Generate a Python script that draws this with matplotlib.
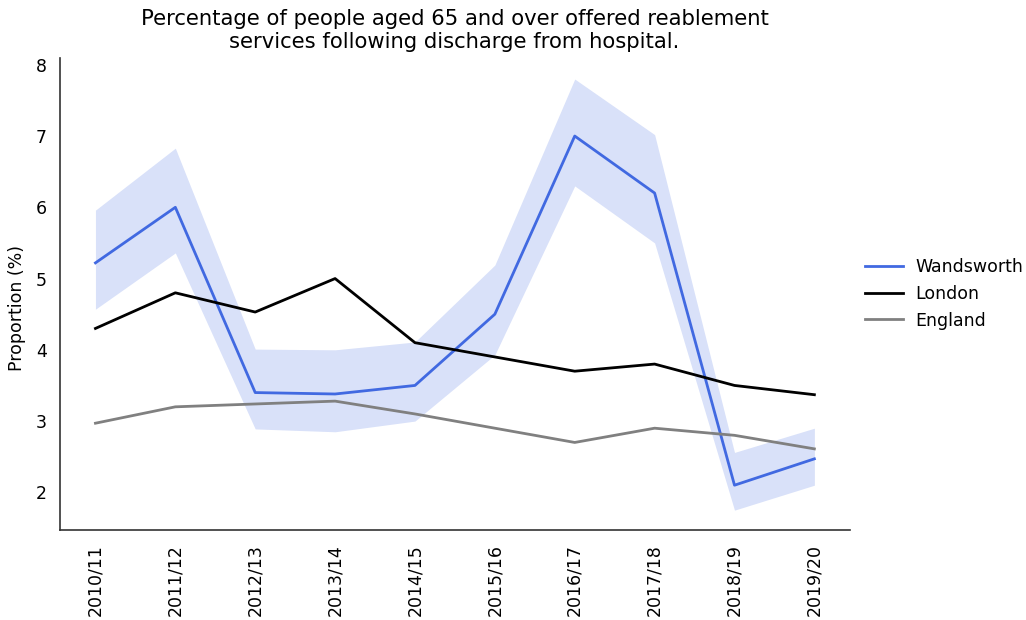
import matplotlib
matplotlib.use("Agg")
import matplotlib.pyplot as plt

years = ["2010/11", "2011/12", "2012/13", "2013/14", "2014/15",
         "2015/16", "2016/17", "2017/18", "2018/19", "2019/20"]
wandsworth = [5.22, 6.0, 3.4, 3.38, 3.5, 4.5, 7.0, 6.2, 2.1, 2.47]
wand_upper = [5.96, 6.83, 4.01, 4.0, 4.11, 5.19, 7.8, 7.02, 2.56, 2.9]
wand_lower = [4.57, 5.36, 2.89, 2.85, 3.0, 3.93, 6.3, 5.5, 1.75, 2.1]
london = [4.3, 4.8, 4.53, 5.0, 4.1, 3.9, 3.7, 3.8, 3.5, 3.37]
england = [2.97, 3.2, 3.24, 3.28, 3.1, 2.9, 2.7, 2.9, 2.8, 2.61]

fig = plt.figure(figsize=(10.26, 6.2), dpi=100)
ax = fig.add_axes([0.058, 0.145, 0.77, 0.762])

x = list(range(len(years)))
ax.fill_between(x, wand_lower, wand_upper, color="#4169e1", alpha=0.2, linewidth=0)
ax.plot(x, wandsworth, color="#4169e1", lw=2, label="Wandsworth")
ax.plot(x, london, color="black", lw=2, label="London")
ax.plot(x, england, color="gray", lw=2, label="England")

ax.set_xlim(-0.45, 9.44)
ax.set_ylim(1.47, 8.1)
ax.set_xticks(x)
ax.set_xticklabels(years, rotation=90, fontsize=12.5)
ax.set_yticks([2, 3, 4, 5, 6, 7, 8])
ax.tick_params(axis="y", labelsize=12.5, length=0, pad=9)
ax.tick_params(axis="x", length=0, pad=10)
ax.set_ylabel("Proportion (%)", fontsize=12.5)
ax.yaxis.set_label_coords(-0.043, 0.47)

for s in ["top", "right"]:
    ax.spines[s].set_visible(False)
for s in ["left", "bottom"]:
    ax.spines[s].set_color("#333333")
    ax.spines[s].set_linewidth(1.2)

ax.set_title("Percentage of people aged 65 and over offered reablement\n"
             "services following discharge from hospital.", fontsize=15.2, pad=7)

ax.legend(loc="center left", bbox_to_anchor=(1.0, 0.5), frameon=False, fontsize=12.5,
          handlelength=2.2, handletextpad=0.7)

fig.savefig("out.png", dpi=100)
